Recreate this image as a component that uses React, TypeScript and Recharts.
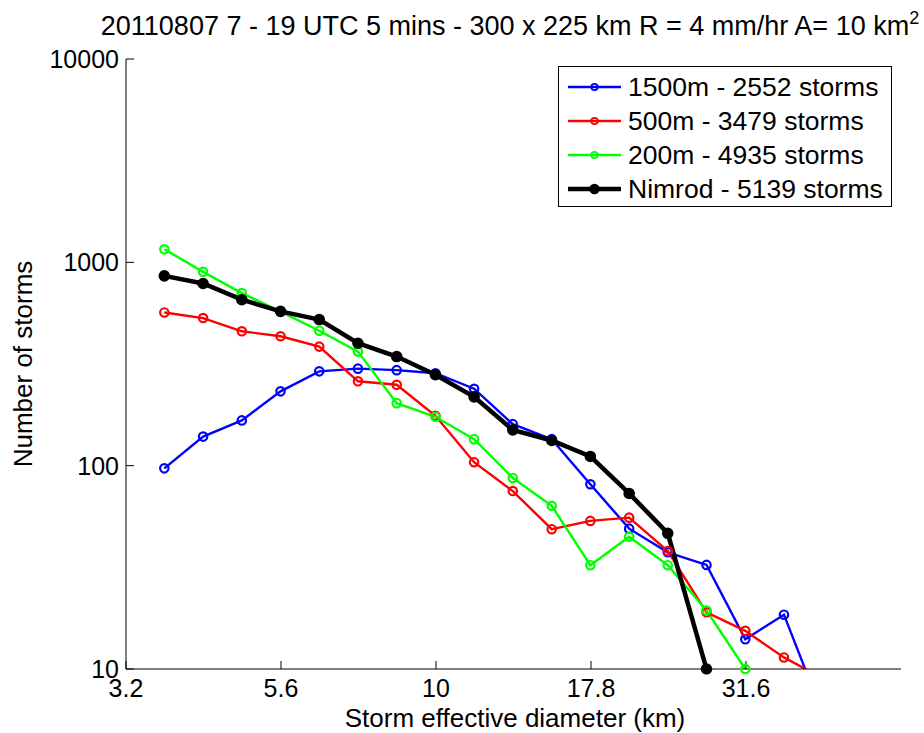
import React from 'react';
import { LineChart, Line, XAxis, YAxis, Legend } from 'recharts';

// Storm effective diameter (km) bin centres
const diameters = [3.646, 4.211, 4.862, 5.614, 6.482, 7.484, 8.642, 9.979, 11.52, 13.3, 15.37, 17.74, 20.49, 23.65, 27.31, 31.54, 36.41, 42.05];

// Number of storms per series
const storms1500m = [97, 139, 167, 232, 291, 300, 295, 285, 239, 160, 135, 81, 49, 37.5, 32.5, 14, 18.5, 6];
const storms500m = [567, 532, 458, 433, 385, 260, 250, 176, 104, 75, 48.7, 53.5, 55.5, 38, 19, 15.4, 11.4, 9];
const storms200m = [1160, 898, 706, 572, 461, 364, 203, 174, 135, 87, 63.5, 32.4, 44.7, 32.4, 19.4, 10];
const stormsNimrod = [858, 787, 655, 574, 523, 400, 344, 280, 218, 150, 133, 111, 73, 46.5, 10];

const xTicks = [3.1623, 5.6234, 10, 17.783, 31.623];
const xTickLabels = ['3.2', '5.6', '10', '17.8', '31.6'];
const yTicks = [10, 100, 1000, 10000];
const xDomain: [number, number] = [3.1623, 56.234];
const yDomain: [number, number] = [10, 10000];

const seriesNames = ['1500m - 2552 storms', '500m - 3479 storms', '200m - 4935 storms', 'Nimrod - 5139 storms'];

const toPoints = (vals: number[]) => vals.map((y, i) => ({ x: diameters[i], y }));

const series = [
  { name: seriesNames[0], data: toPoints(storms1500m), color: '#0000ff', width: 2.4, filled: false, clipDot: true },
  { name: seriesNames[1], data: toPoints(storms500m), color: '#ff0000', width: 2.4, filled: false, clipDot: true },
  { name: seriesNames[2], data: toPoints(storms200m), color: '#00ff00', width: 2.4, filled: false, clipDot: false },
  { name: seriesNames[3], data: toPoints(stormsNimrod), color: '#000000', width: 4.5, filled: true, clipDot: false },
];

const FONT = '"Liberation Sans", Arial, Helvetica, sans-serif';

const LegendBox = () => (
  <div
    style={{
      boxSizing: 'border-box',
      width: 334,
      height: 141,
      border: '1px solid #000',
      background: '#fff',
      paddingTop: 3,
      fontFamily: FONT,
    }}
  >
    {series.map((s) => (
      <div key={s.name} style={{ height: 34, display: 'flex', alignItems: 'center' }}>
        <svg width={69} height={34} style={{ display: 'block', flex: '0 0 auto' }}>
          <line x1={9} x2={62} y1={17} y2={17} stroke={s.color} strokeWidth={s.width} />
          {s.filled ? (
            <circle cx={35.5} cy={17} r={4.5} fill={s.color} stroke={s.color} strokeWidth={1.5} />
          ) : (
            <circle cx={35.5} cy={17} r={3.2} fill="none" stroke={s.color} strokeWidth={1.8} />
          )}
        </svg>
        <span style={{ fontSize: 26.5, lineHeight: '34px', color: '#000', whiteSpace: 'nowrap' }}>{s.name}</span>
      </div>
    ))}
  </div>
);

export default function App() {
  return (
    <div style={{ position: 'absolute', left: 0, top: 0, width: 924, height: 733, background: '#fff', fontFamily: FONT }}>
      <LineChart width={924} height={733} margin={{ top: 59, right: 23, bottom: 0, left: 0 }}>
        <XAxis
          xAxisId="b"
          type="number"
          dataKey="x"
          scale="log"
          domain={xDomain}
          allowDataOverflow
          ticks={xTicks}
          interval={0}
          tickFormatter={(v: number) => xTickLabels[xTicks.indexOf(v)] ?? ''}
          height={64}
          tickSize={-8}
          tickMargin={18}
          stroke="#000"
          tick={{ fill: '#000', fontSize: 25 }}
        />
        <XAxis
          xAxisId="t"
          orientation="top"
          type="number"
          dataKey="x"
          scale="log"
          domain={xDomain}
          allowDataOverflow
          ticks={xTicks}
          interval={0}
          tickFormatter={() => ''}
          height={0}
          tickSize={-8}
          stroke="#000"
        />
        <YAxis
          yAxisId="l"
          type="number"
          dataKey="y"
          scale="log"
          domain={yDomain}
          allowDataOverflow
          ticks={yTicks}
          interval={0}
          width={126}
          tickSize={-8}
          tickMargin={15}
          stroke="#000"
          tick={{ fill: '#000', fontSize: 25 }}
        />
        <YAxis
          yAxisId="r"
          orientation="right"
          type="number"
          dataKey="y"
          scale="log"
          domain={yDomain}
          allowDataOverflow
          ticks={yTicks}
          interval={0}
          tickFormatter={() => ''}
          width={0}
          tickSize={-8}
          stroke="#000"
        />
        {series.map((s) => (
          <Line
            key={s.name}
            xAxisId="b"
            yAxisId="l"
            data={s.data}
            dataKey="y"
            name={s.name}
            type="linear"
            stroke={s.color}
            strokeWidth={s.width}
            isAnimationActive={false}
            dot={
              s.filled
                ? { r: 4.8, fill: s.color, stroke: s.color, strokeWidth: 2, clipDot: s.clipDot }
                : { r: 4.2, fill: 'none', stroke: s.color, strokeWidth: 2.2, clipDot: s.clipDot }
            }
            activeDot={false}
          />
        ))}
        <Legend
          layout="vertical"
          align="center"
          verticalAlign="middle"
          wrapperStyle={{ position: 'absolute', left: 558, top: 66, width: 334, height: 141 }}
          content={() => <LegendBox />}
        />
      </LineChart>
      <svg
        width={924}
        height={733}
        style={{ position: 'absolute', left: 0, top: 0, pointerEvents: 'none' }}
        fontFamily={FONT}
      >
        <text x={510} y={35} textAnchor="middle" fontSize={27} fill="#000">
          20110807 7 - 19 UTC 5 mins - 300 x 225 km R = 4 mm/hr A= 10 km
          <tspan dy={-11} fontSize={18}>2</tspan>
        </text>
        <text x={515} y={727} textAnchor="middle" fontSize={26} fill="#000">
          Storm effective diameter (km)
        </text>
        <text x={32} y={364} transform="rotate(-90 32 364)" textAnchor="middle" fontSize={26} fill="#000">
          Number of storms
        </text>
      </svg>
    </div>
  );
}
